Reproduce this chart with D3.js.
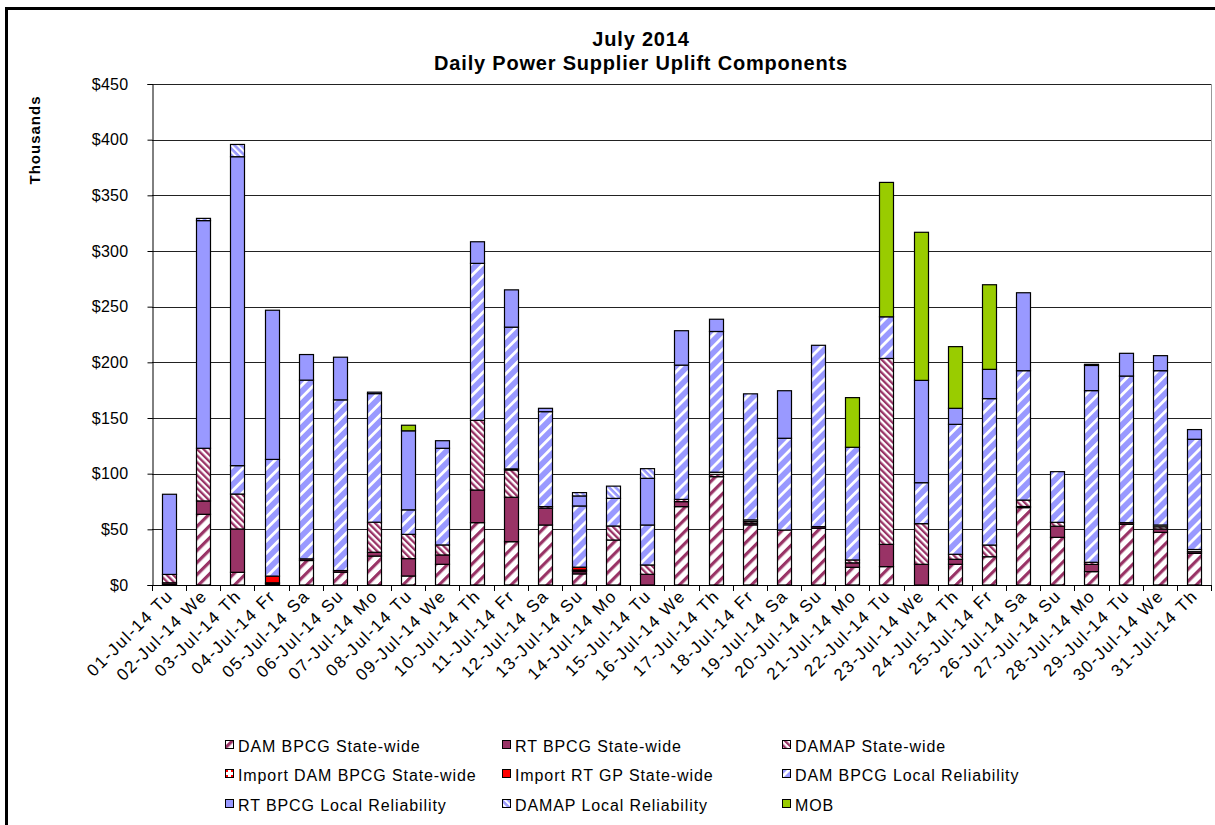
<!DOCTYPE html>
<html>
<head>
<meta charset="utf-8">
<script src="https://cdn.jsdelivr.net/npm/d3@7"></script>
<style>
  body { margin: 0; background: #fff; }
  text { font-family: "Liberation Sans", Arial, sans-serif; }
</style>
</head>
<body>
<div id="chart"></div>
<script>
var w = 1215;
var h = 825;

var days = ["01-Jul-14 Tu", "02-Jul-14 We", "03-Jul-14 Th", "04-Jul-14 Fr", "05-Jul-14 Sa", "06-Jul-14 Su",
    "07-Jul-14 Mo", "08-Jul-14 Tu", "09-Jul-14 We", "10-Jul-14 Th", "11-Jul-14 Fr", "12-Jul-14 Sa",
    "13-Jul-14 Su", "14-Jul-14 Mo", "15-Jul-14 Tu", "16-Jul-14 We", "17-Jul-14 Th", "18-Jul-14 Fr",
    "19-Jul-14 Sa", "20-Jul-14 Su", "21-Jul-14 Mo", "22-Jul-14 Tu", "23-Jul-14 We", "24-Jul-14 Th",
    "25-Jul-14 Fr", "26-Jul-14 Sa", "27-Jul-14 Su", "28-Jul-14 Mo", "29-Jul-14 Tu", "30-Jul-14 We",
    "31-Jul-14 Th"];

// values in thousands of $
var damBpcgSW   = [0.5, 63.5, 11.4, 1, 22, 11.5, 26, 8.1, 18.6, 56, 38.9, 53.9, 10, 40.4, 0, 70.4,
    97.3, 54, 49.4, 50.9, 15.9, 16.5, 0, 18.6, 25.4, 69.5, 42.8, 12, 54.5, 47.3, 28.4];
var rtBpcgSW    = [1.5, 12, 38.9, 1, 1.5, 1.5, 3.4, 15.6, 8.4, 29.3, 39.9, 15, 2, 0, 9.6, 4.5,
    0, 1.5, 0, 1.5, 4, 20, 18.6, 4.5, 0, 1, 10, 6.5, 1.5, 3, 1.5];
var damapSW     = [7.5, 47.3, 31.4, 0, 0, 0, 27, 21.8, 9, 62.6, 24.5, 1.5, 1, 12.6, 8.4, 2,
    2, 1.5, 0, 0, 2.6, 167, 36.5, 4.5, 10.5, 5.8, 3.5, 1.9, 0, 2, 0];
var importDamSW = [0, 0, 0, 0, 0, 0, 0, 0, 0, 0, 1, 0, 0.5, 0, 0, 0,
    2, 1.5, 0, 0, 0, 0, 0, 0, 0, 0, 0, 0, 0, 1.6, 2];
var importRtSW  = [0, 0, 0, 6, 0, 0, 0, 0, 0, 0, 0, 0, 2.5, 0, 0, 0,
    0, 0, 0, 0, 0, 0, 0, 0, 0, 0, 0, 0, 0, 0, 0];
var damBpcgLR   = [0, 0, 25.5, 104.8, 160.5, 153.3, 115.5, 22, 86.8, 141, 127.3, 85.3, 55, 24.8, 35.9, 120.6,
    126.4, 113.2, 82.4, 162.9, 101.2, 37.4, 36.8, 116.7, 131.5, 116.2, 45.5, 154.2, 131.7, 138.6, 99];
var rtBpcgLR    = [72, 204.5, 277.5, 134, 23, 38.3, 1.3, 71, 6.8, 19.4, 33.5, 3, 9, 0, 41.9, 30.9,
    11, 0, 42.7, 0, 0, 0, 91.9, 14.4, 26.3, 70, 0, 22.6, 20.4, 13.5, 8.7];
var damapLR     = [0, 2, 11, 0, 0, 0, 0, 0, 0, 0, 0, 0, 3, 11, 8.7, 0,
    0, 0, 0, 0, 0, 0, 0, 0, 0, 0, 0, 1, 0, 0, 0];
var mob         = [0, 0, 0, 0, 0, 0, 0, 5, 0, 0, 0, 0, 0, 0, 0, 0,
    0, 0, 0, 0, 44.6, 120.7, 133, 55.4, 76, 0, 0, 0, 0, 0, 0];

var seriesNames = ["DAM BPCG State-wide", "RT BPCG State-wide", "DAMAP State-wide",
    "Import DAM BPCG State-wide", "Import RT GP State-wide", "DAM BPCG Local Reliability",
    "RT BPCG Local Reliability", "DAMAP Local Reliability", "MOB"];
var seriesValues = [damBpcgSW, rtBpcgSW, damapSW, importDamSW, importRtSW, damBpcgLR, rtBpcgLR, damapLR, mob];
var seriesFills = ["url(#pDamSW)", "#993366", "url(#pDamapSW)", "url(#pImpDam)", "#ff0000",
    "url(#pDamLR)", "#9999ff", "url(#pDamapLR)", "#99cc00"];
var yTicks = [0, 50, 100, 150, 200, 250, 300, 350, 400, 450];

var table = days.map(function(d, i) {
    var row = { day: d };
    seriesNames.forEach(function(s, j) { row[s] = seriesValues[j][i]; });
    return row;
});

var svg = d3.select("#chart").append("svg")
    .attr("width", w)
    .attr("height", h);

// fill patterns
var defs = svg.append("defs");
function stripes(id, bg, fg, size, lineW, angle) {
    var p = defs.append("pattern")
        .attr("id", id)
        .attr("patternUnits", "userSpaceOnUse")
        .attr("width", size)
        .attr("height", size)
        .attr("patternTransform", "rotate(" + angle + ")");
    p.append("rect").attr("width", size).attr("height", size).attr("fill", bg);
    p.append("rect").attr("width", lineW).attr("height", size).attr("fill", fg);
}
stripes("pDamSW", "#ffffff", "#993366", 8.5, 3.2, 45);
stripes("pDamapSW", "#ffffff", "#993366", 4.6, 2.3, -45);
stripes("pDamLR", "#9999ff", "#ffffff", 8.5, 2.8, 45);
stripes("pDamapLR", "#9999ff", "#ffffff", 4.6, 2.0, -45);
var pi = defs.append("pattern")
    .attr("id", "pImpDam")
    .attr("patternUnits", "userSpaceOnUse")
    .attr("width", 6).attr("height", 6);
pi.append("rect").attr("width", 6).attr("height", 6).attr("fill", "#ffffff");
pi.append("rect").attr("width", 3).attr("height", 3).attr("fill", "#ff0000");

// outer frame
svg.append("rect")
    .attr("x", 6.5).attr("y", 8.5)
    .attr("width", w + 20).attr("height", h + 20)
    .attr("fill", "none")
    .attr("stroke", "#000")
    .attr("stroke-width", 3);

var plotL = 152, plotR = 1211, plotT = 84, plotB = 585;

var x = d3.scaleBand()
    .domain(days)
    .range([plotL, plotR])
    .paddingInner(0.59)
    .paddingOuter(0.295);

var y = d3.scaleLinear()
    .domain([0, 450])
    .range([plotB, plotT]);

// gridlines
svg.append("g")
    .selectAll("line")
    .data(yTicks)
    .enter()
    .append("line")
    .attr("x1", plotL)
    .attr("x2", plotR)
    .attr("y1", function(d) { return Math.round(y(d)) + 0.5; })
    .attr("y2", function(d) { return Math.round(y(d)) + 0.5; })
    .attr("stroke", "#222")
    .attr("stroke-width", 1);

svg.append("line")
    .attr("x1", plotR + 0.5).attr("x2", plotR + 0.5)
    .attr("y1", plotT).attr("y2", plotB)
    .attr("stroke", "#999");

// bars
var stack = d3.stack().keys(seriesNames);
var layers = stack(table);

svg.append("g")
    .selectAll("g")
    .data(layers)
    .enter()
    .append("g")
    .attr("fill", function(d, i) { return seriesFills[i]; })
    .selectAll("rect")
    .data(function(d) { return d.filter(function(s) { return s[1] - s[0] > 0; }); })
    .enter()
    .append("rect")
    .attr("x", function(d) { return Math.round(x(d.data.day)) + 0.5; })
    .attr("width", Math.round(x.bandwidth()))
    .attr("y", function(d) { return y(d[1]); })
    .attr("height", function(d) { return y(d[0]) - y(d[1]); })
    .attr("stroke", "#000")
    .attr("stroke-width", 1.2);

// y axis
var yAxis = svg.append("g")
    .attr("transform", "translate(" + (plotL + 0.5) + ",0)")
    .call(d3.axisLeft(y)
        .tickValues(yTicks)
        .tickSize(5)
        .tickPadding(19)
        .tickFormat(function(d) { return "$" + d; }));
yAxis.select(".domain").attr("stroke", "#000");
yAxis.selectAll("text")
    .attr("font-size", "16px")
    .attr("letter-spacing", "0.3px")
    .attr("fill", "#000");

// x axis
var step = x.step();
svg.append("line")
    .attr("x1", plotL).attr("x2", plotR)
    .attr("y1", plotB + 0.5).attr("y2", plotB + 0.5)
    .attr("stroke", "#000");

svg.append("g")
    .selectAll("line")
    .data(days.concat(["end"]))
    .enter()
    .append("line")
    .attr("x1", function(d, i) { return Math.round(plotL + i * step) + 0.5; })
    .attr("x2", function(d, i) { return Math.round(plotL + i * step) + 0.5; })
    .attr("y1", plotB)
    .attr("y2", plotB + 6)
    .attr("stroke", "#000");

svg.append("g")
    .selectAll("text")
    .data(days)
    .enter()
    .append("text")
    .attr("transform", function(d) {
        return "translate(" + (x(d) + x.bandwidth() / 2 + 5) + "," + (plotB + 12) + ") rotate(-45)";
    })
    .attr("text-anchor", "end")
    .attr("font-size", "17px")
    .attr("letter-spacing", "1.6px")
    .text(function(d) { return d; });

// titles
svg.append("text")
    .attr("x", 641).attr("y", 46)
    .attr("text-anchor", "middle")
    .attr("font-size", "20px")
    .attr("font-weight", "bold")
    .attr("letter-spacing", "0.8px")
    .text("July 2014");
svg.append("text")
    .attr("x", 641).attr("y", 70)
    .attr("text-anchor", "middle")
    .attr("font-size", "20px")
    .attr("font-weight", "bold")
    .attr("letter-spacing", "0.8px")
    .text("Daily Power Supplier Uplift Components");

svg.append("text")
    .attr("transform", "translate(40,140) rotate(-90)")
    .attr("text-anchor", "middle")
    .attr("font-size", "15px")
    .attr("font-weight", "bold")
    .attr("letter-spacing", "1px")
    .text("Thousands");

// legend
var legendCols = [225, 502, 782];
var legendRows = [746, 775, 805];
var legend = svg.append("g")
    .selectAll("g")
    .data(seriesNames)
    .enter()
    .append("g")
    .attr("transform", function(d, i) {
        return "translate(" + legendCols[i % 3] + "," + legendRows[Math.floor(i / 3)] + ")";
    });
legend.append("rect")
    .attr("x", 0.5).attr("y", -5.5)
    .attr("width", 8).attr("height", 8)
    .attr("fill", function(d, i) { return seriesFills[i]; })
    .attr("stroke", "#000");
legend.append("text")
    .attr("x", 13)
    .attr("y", 6)
    .attr("font-size", "16px")
    .attr("letter-spacing", "0.9px")
    .text(function(d) { return d; });
</script>
</body>
</html>
